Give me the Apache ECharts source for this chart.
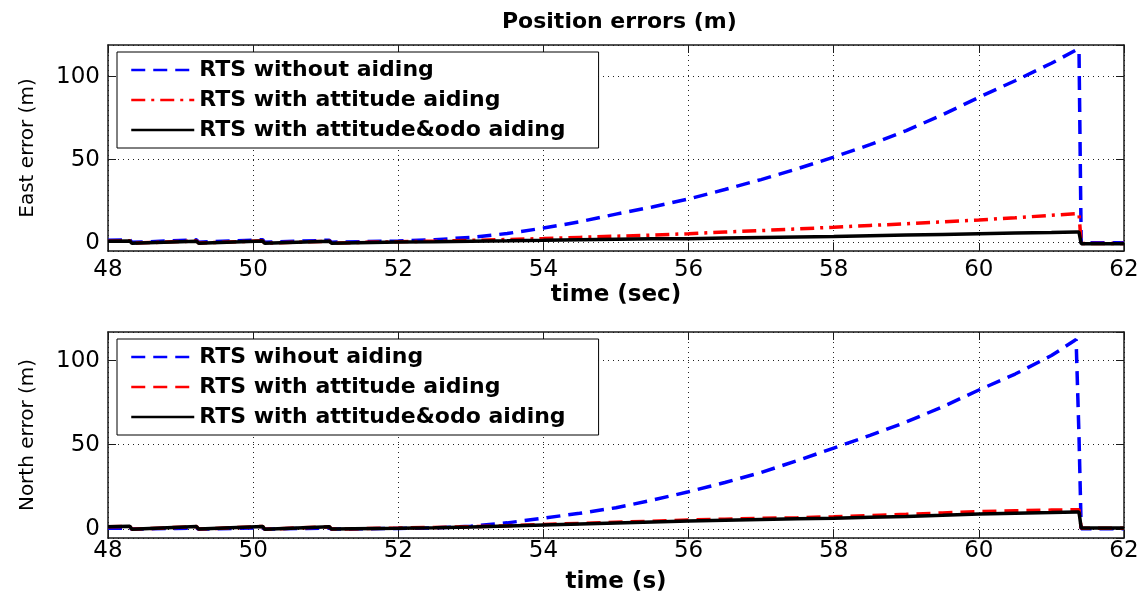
<!DOCTYPE html>
<html>
<head>
<meta charset="utf-8">
<script src="https://cdn.jsdelivr.net/npm/echarts@6/dist/echarts.min.js"></script>
<style>
  html, body { margin: 0; padding: 0; background: #fff; }
  #chart { width: 1145px; height: 598px; }
</style>
</head>
<body>
<div id="chart"></div>
<script>
// time stamps (s), shared by every curve
var time = [48.0, 48.3, 48.33, 49.22, 49.25, 50.13, 50.16, 51.05, 51.08, 52.0, 52.5, 53.0, 53.5, 54.0, 54.5, 55.0, 55.5, 56.0, 56.5,
            57.0, 57.5, 58.0, 58.5, 59.0, 59.5, 60.0, 60.5, 61.0, 61.34, 61.38, 61.41, 61.7, 62.0];

// east errors (m)
var eastNoAid = [1.5, 1.8, 0.2, 1.7, 0.3, 1.8, 0.2, 1.5, 0.3, 1.0, 1.8, 3.2, 5.5, 8.8, 12.6, 17.2, 21.5, 26.3, 32.0,
                 38.0, 44.5, 51.5, 59.0, 67.5, 77.0, 87.5, 97.5, 108.0, 116.0, 116.0, 0.0, 0.0, 0.0];
var eastAtt   = [0.9, 1.1, -0.3, 1.0, -0.2, 1.1, -0.3, 0.9, -0.2, 0.6, 0.9, 1.4, 1.9, 2.5, 3.2, 3.9, 4.6, 5.4, 6.4,
                 7.3, 8.3, 9.3, 10.4, 11.4, 12.5, 13.7, 15.0, 16.5, 17.5, 17.5, -0.5, -0.5, -0.5];
var eastOdo   = [0.8, 1.0, -0.4, 0.9, -0.3, 1.0, -0.4, 0.8, -0.3, 0.4, 0.6, 0.9, 1.1, 1.4, 1.8, 2.1, 2.3, 2.4, 2.8,
                 3.2, 3.5, 3.8, 4.2, 4.6, 5.0, 5.4, 5.8, 6.1, 6.4, 6.4, -0.6, -0.6, -0.6];

// north errors (m)
var northNoAid = [0.3, 0.4, -0.2, 0.4, -0.2, 0.5, -0.2, 0.4, -0.2, 0.2, 0.5, 1.5, 3.5, 6.3, 9.2, 12.5, 17.0, 22.0, 27.5,
                  33.5, 40.5, 48.0, 55.5, 63.5, 72.5, 82.5, 92.0, 103.0, 112.5, 55.0, 0.0, 0.0, 0.0];
var northAtt   = [1.2, 1.5, -0.3, 1.3, -0.2, 1.4, -0.3, 1.2, -0.2, 0.4, 0.8, 1.2, 1.8, 2.5, 3.2, 3.9, 4.5, 5.2, 5.7,
                  6.2, 6.6, 7.1, 7.9, 8.6, 9.4, 10.2, 10.7, 11.1, 11.3, 11.3, 0.3, 0.3, 0.3];
var northOdo   = [1.2, 1.5, -0.3, 1.3, -0.2, 1.4, -0.3, 1.2, -0.2, 0.3, 0.6, 1.0, 1.6, 2.2, 2.8, 3.4, 4.0, 4.6, 5.1,
                  5.5, 5.9, 6.3, 6.8, 7.3, 8.0, 8.8, 9.2, 9.6, 10.0, 10.0, 0.5, 0.5, 0.5];

var eastNames  = ['RTS without aiding', 'RTS with attitude aiding', 'RTS with attitude&odo aiding'];
var northNames = ['RTS wihout aiding', 'RTS with attitude aiding', 'RTS with attitude&odo aiding'];

var FONT = 'DejaVu Sans';
var DASH = [14, 8];
var DASH_DOT = [14, 6, 3, 6];

function pairs(ys) {
  return time.map(function (t, i) { return [t, ys[i]]; });
}

function xAxes(grid, name, margin) {
  var base = {
    gridIndex: grid, type: 'value', min: 48, max: 62, interval: 2,
    axisLine: { onZero: false, lineStyle: { color: '#1a1a1a', width: 1.5 } },
    axisTick: { inside: true, length: 8, lineStyle: { color: '#1a1a1a' } }
  };
  return [
    Object.assign({}, base, {
      position: 'bottom', name: name, nameLocation: 'middle', nameGap: 33,
      nameTextStyle: { fontFamily: FONT, fontWeight: 'bold', fontSize: 23, color: '#000' },
      axisLabel: { margin: margin, fontFamily: FONT, fontSize: 23, color: '#000' },
      splitLine: { show: true, lineStyle: { type: [1, 4], color: '#222' } }
    }),
    Object.assign({}, base, { position: 'top', axisLabel: { show: false }, splitLine: { show: false } })
  ];
}

function yAxes(grid, name, min, max) {
  var base = {
    gridIndex: grid, type: 'value', min: min, max: max, splitNumber: 3,
    axisLine: { onZero: false, lineStyle: { color: '#1a1a1a', width: 1.5 } },
    axisTick: { inside: true, length: 8, lineStyle: { color: '#1a1a1a' } }
  };
  return [
    Object.assign({}, base, {
      position: 'left', name: name, nameLocation: 'middle', nameGap: 70,
      nameTextStyle: { fontFamily: FONT, fontSize: 20, color: '#000' },
      axisLabel: { margin: 8, fontFamily: FONT, fontSize: 23, color: '#000',
                   showMinLabel: false, showMaxLabel: false },
      splitLine: { show: true, lineStyle: { type: [1, 4], color: '#222' } }
    }),
    Object.assign({}, base, { position: 'right', axisLabel: { show: false }, splitLine: { show: false } })
  ];
}

function legend(top, names, redDash) {
  return {
    orient: 'vertical', left: 117, top: top,
    padding: [5, 33, 5, 13], itemGap: 4, itemWidth: 63, itemHeight: 14,
    backgroundColor: '#fff', borderColor: '#000', borderWidth: 1,
    itemStyle: { opacity: 0 },
    lineStyle: { width: 2.5 },
    textStyle: { fontFamily: FONT, fontWeight: 'bold', fontSize: 22, lineHeight: 26, color: '#000' },
    data: [
      { name: names[0], lineStyle: { type: DASH } },
      { name: names[1], lineStyle: { type: redDash } },
      { name: names[2], lineStyle: { type: 'solid' } }
    ]
  };
}

function line(name, ys, xi, yi, color, type) {
  return {
    name: name, type: 'line', xAxisIndex: xi, yAxisIndex: yi,
    data: pairs(ys), symbol: 'none',
    lineStyle: { color: color, width: 3.5, type: type },
    itemStyle: { color: color }
  };
}

var chart = echarts.init(document.getElementById('chart'));
chart.setOption({
  animation: false,
  backgroundColor: '#fff',
  title: {
    text: 'Position errors (m)', left: 497, top: 6,
    textStyle: { fontFamily: FONT, fontWeight: 'bold', fontSize: 22, color: '#000' }
  },
  grid: [
    { left: 108, top: 45, width: 1016, height: 206, outerBoundsMode: 'none' },
    { left: 108, top: 332, width: 1016, height: 206, outerBoundsMode: 'none' }
  ],
  legend: [legend(52, eastNames, DASH_DOT), legend(339, northNames, DASH)],
  xAxis: xAxes(0, 'time (sec)', 8).concat(xAxes(1, 'time (s)', 2)),
  yAxis: yAxes(0, 'East error (m)', -5, 119).concat(yAxes(1, 'North error (m)', -5.5, 117)),
  series: [
    line(eastNames[0], eastNoAid, 0, 0, '#0000ff', DASH),
    line(eastNames[1], eastAtt, 0, 0, '#ff0000', DASH_DOT),
    line(eastNames[2], eastOdo, 0, 0, '#000000', 'solid'),
    line(northNames[0], northNoAid, 2, 2, '#0000ff', DASH),
    line(northNames[1], northAtt, 2, 2, '#ff0000', DASH),
    line(northNames[2], northOdo, 2, 2, '#000000', 'solid')
  ]
});
</script>
</body>
</html>
